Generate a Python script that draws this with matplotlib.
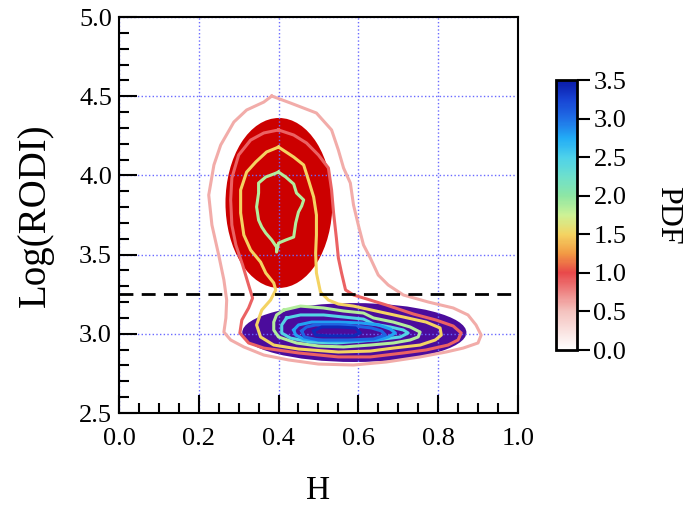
#!/usr/bin/env python
# Joint PDF of H and Log(RODI): two fitted modes (filled ellipses)
# with the empirical density contours drawn on top.
import numpy as np
import matplotlib
matplotlib.use("Agg")
import matplotlib.pyplot as plt
import matplotlib as mpl
from matplotlib.patches import Ellipse
from matplotlib.colors import LinearSegmentedColormap, Normalize
from matplotlib.ticker import MultipleLocator

plt.rcParams['font.family'] = ['Liberation Serif', 'DejaVu Serif']

###############################################
# Data
# fitted modes: centre H, centre Log(RODI), full width, full height
mode_upper = [0.401, 3.826, 0.268, 1.073]
mode_lower = [0.590, 3.008, 0.562, 0.372]
rodi_threshold = 3.25

# empirical contours (H, Log(RODI)) and the PDF level of each
pink_h = [0.383,0.430,0.495,0.533,0.550,0.563,0.580,0.588,0.600,0.613,0.630,0.650,0.675,0.713,0.775,0.838,0.875,0.895,0.908,0.900,0.863,0.820,0.755,0.670,0.588,0.500,0.425,0.363,0.313,0.280,0.263,0.268,0.270,0.263,0.250,0.233,0.225,0.238,0.255,0.288,0.320,0.363]
pink_r = [4.501,4.457,4.394,4.287,4.160,4.047,3.952,3.813,3.687,3.561,3.479,3.371,3.308,3.245,3.201,3.163,3.119,3.056,2.992,2.942,2.910,2.885,2.854,2.822,2.803,2.809,2.835,2.866,2.917,2.961,3.011,3.100,3.213,3.340,3.497,3.687,3.876,4.066,4.192,4.337,4.413,4.463]

red_h = [0.400,0.438,0.470,0.500,0.525,0.533,0.538,0.545,0.550,0.558,0.568,0.588,0.630,0.670,0.738,0.795,0.838,0.858,0.850,0.825,0.770,0.713,0.630,0.550,0.450,0.363,0.325,0.303,0.308,0.325,0.335,0.325,0.310,0.293,0.283,0.280,0.283,0.300,0.330,0.363]
red_r = [4.287,4.255,4.205,4.129,4.047,3.908,3.763,3.605,3.479,3.384,3.277,3.245,3.213,3.182,3.125,3.087,3.049,3.005,2.961,2.929,2.898,2.879,2.854,2.854,2.879,2.910,2.942,3.005,3.087,3.163,3.226,3.308,3.434,3.561,3.687,3.845,3.984,4.129,4.223,4.268]

yel_h = [0.400,0.438,0.463,0.475,0.488,0.495,0.495,0.493,0.495,0.505,0.525,0.550,0.588,0.655,0.713,0.770,0.805,0.808,0.793,0.755,0.688,0.630,0.550,0.450,0.388,0.355,0.345,0.358,0.380,0.393,0.388,0.368,0.355,0.330,0.313,0.305,0.305,0.320,0.343,0.370]
yel_r = [4.179,4.116,4.066,3.971,3.864,3.750,3.624,3.510,3.384,3.264,3.213,3.188,3.175,3.138,3.106,3.074,3.037,2.992,2.961,2.929,2.910,2.891,2.885,2.904,2.929,2.980,3.056,3.150,3.213,3.277,3.321,3.384,3.453,3.529,3.624,3.763,3.908,4.021,4.085,4.148]

grn_up_h = [0.400,0.418,0.438,0.445,0.463,0.458,0.450,0.443,0.438,0.418,0.400,0.395,0.395,0.383,0.368,0.358,0.350,0.345,0.350,0.350,0.368,0.388]
grn_up_r = [4.021,3.990,3.946,3.889,3.845,3.807,3.769,3.699,3.611,3.592,3.573,3.516,3.548,3.592,3.636,3.674,3.718,3.801,3.889,3.952,3.990,4.009]

grn_lo_h = [0.413,0.455,0.513,0.563,0.613,0.638,0.688,0.730,0.755,0.750,0.730,0.688,0.630,0.563,0.500,0.445,0.400,0.388,0.388,0.395]
grn_lo_r = [3.150,3.175,3.163,3.144,3.131,3.100,3.074,3.043,3.011,2.980,2.961,2.942,2.929,2.917,2.923,2.942,2.980,3.024,3.074,3.119]

cyan_h = [0.420,0.455,0.513,0.563,0.613,0.638,0.680,0.713,0.725,0.705,0.663,0.613,0.545,0.480,0.430,0.408,0.408]
cyan_r = [3.100,3.119,3.119,3.106,3.093,3.062,3.043,3.024,3.005,2.980,2.967,2.955,2.942,2.948,2.973,3.005,3.056]

lblue_h = [0.438,0.450,0.483,0.550,0.608,0.650,0.680,0.693,0.675,0.650,0.588,0.525,0.463,0.443]
lblue_r = [3.024,3.056,3.074,3.074,3.068,3.056,3.030,3.005,2.980,2.961,2.955,2.955,2.967,2.992]

blue_h = [0.458,0.470,0.493,0.568,0.633,0.658,0.668,0.638,0.575,0.500,0.465]
blue_r = [3.018,3.043,3.056,3.056,3.037,3.018,2.992,2.967,2.961,2.961,2.980]

navy_h = [0.488,0.508,0.550,0.593,0.605,0.588,0.525,0.493]
navy_r = [3.018,3.043,3.043,3.037,3.005,2.987,2.987,2.992]

contour_h = [pink_h, red_h, yel_h, grn_up_h, grn_lo_h, cyan_h, lblue_h, blue_h, navy_h]
contour_r = [pink_r, red_r, yel_r, grn_up_r, grn_lo_r, cyan_r, lblue_r, blue_r, navy_r]
contour_level = [0.6, 0.9, 1.5, 1.85, 1.85, 2.45, 2.8, 3.05, 3.4]

pdf_ticks = [0.0, 0.5, 1.0, 1.5, 2.0, 2.5, 3.0, 3.5]
###############################################

# colour scale used for the PDF
cmap_nodes = [(0.0, '#ffffff'), (0.5/3.5, '#f4c2be'), (1.0/3.5, '#e8484a'),
              (1.25/3.5, '#f29a44'), (1.5/3.5, '#f4d462'), (1.75/3.5, '#cdf296'),
              (2.0/3.5, '#8ee6a4'), (2.25/3.5, '#6ee0cc'), (2.5/3.5, '#4ed2ea'),
              (2.75/3.5, '#22acf6'), (3.0/3.5, '#2070e6'), (3.25/3.5, '#1844d4'),
              (1.0, '#0a1aa8')]
pdf_cmap = LinearSegmentedColormap.from_list('pdf', cmap_nodes)
pdf_norm = Normalize(vmin=0.0, vmax=3.5)

fig = plt.figure(figsize=(6.85, 5.08), dpi=100)
ax = fig.add_axes([0.1737, 0.187, 0.5823, 0.7795])

# the two fitted modes
for mode, col in zip([mode_upper, mode_lower], ['#cc0000', '#4b0c9c']):
    ax.add_patch(Ellipse((mode[0], mode[1]), mode[2], mode[3],
                         facecolor=col, edgecolor='none', zorder=1))
#endfor

# empirical contours on top
for hh, rr, lev in zip(contour_h, contour_r, contour_level):
    ax.plot(hh + hh[:1], rr + rr[:1], color=pdf_cmap(pdf_norm(lev)),
            lw=2.2, solid_joinstyle='round', zorder=3)
#endfor

ax.axhline(rodi_threshold, color='black', lw=2.0, ls=(0, (5, 3)), zorder=4)

ax.set_xlim(0.0, 1.0)
ax.set_ylim(2.5, 5.0)
ax.xaxis.set_major_locator(MultipleLocator(0.2))
ax.xaxis.set_minor_locator(MultipleLocator(0.05))
ax.yaxis.set_major_locator(MultipleLocator(0.5))
ax.yaxis.set_minor_locator(MultipleLocator(0.1))
ax.xaxis.set_major_formatter('{x:.1f}')
ax.yaxis.set_major_formatter('{x:.1f}')

ax.set_axisbelow('line')
ax.grid(True, which='major', color='#6a6aff', lw=1.0, ls=':')

ax.tick_params(which='both', direction='in', top=False, right=False, width=1.5)
ax.tick_params(which='major', length=13)
ax.tick_params(which='minor', length=7.5)
ax.tick_params(axis='x', labelsize=19, pad=11)
ax.tick_params(axis='y', labelsize=19, pad=5)
for sp in ax.spines.values():
    sp.set_linewidth(1.5)
#endfor

ax.set_xlabel('H', fontsize=24, labelpad=18)
ax.set_ylabel('Log(RODI)', fontsize=28, labelpad=18)

# colour bar
cax = fig.add_axes([0.811, 0.311, 0.031, 0.531])
sm = mpl.cm.ScalarMappable(norm=pdf_norm, cmap=pdf_cmap)
cb = fig.colorbar(sm, cax=cax, ticks=pdf_ticks, format='%.1f')
cb.outline.set_linewidth(2.0)
cax.tick_params(direction='out', length=9, width=1.5, labelsize=19, pad=3)
cb.set_label('PDF', rotation=270, fontsize=23, labelpad=40)

fig.savefig('out.png', dpi=100)
plt.close(fig)
